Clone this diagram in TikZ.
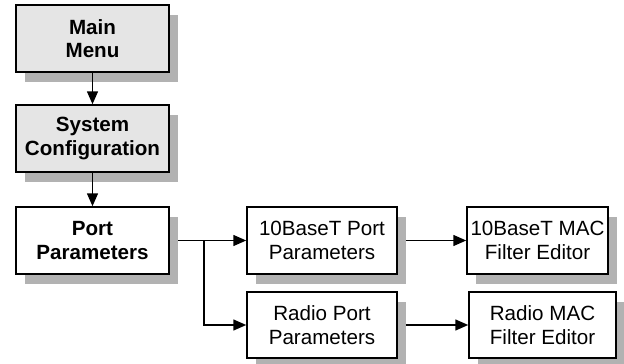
\documentclass[tikz,border=0pt]{standalone}
\usepackage{fontspec}
\setmainfont{Liberation Sans}
\usetikzlibrary{arrows.meta,shadows}
\begin{document}
\begin{tikzpicture}[x=1pt, y=-1pt,
	box/.style={draw, line width=1.5pt, fill=white, align=center, inner sep=0pt,
		minimum height=67pt, font=\fontsize{20.6}{23.6}\selectfont,
		drop shadow={shadow xshift=9pt, shadow yshift=-10pt, fill=black!30, opacity=1}},
	menubox/.style={box, fill=black!10, font=\fontsize{20.6}{23.6}\selectfont\bfseries},
	conn/.style={line width=1.5pt, -{Triangle[length=13pt, width=11pt]}}]
	\useasboundingbox (0,0) rectangle (624,364);
	\node[menubox, minimum width=153pt] (main) at (92.5, 38.5) {Main\\Menu};
	\node[menubox, minimum width=153pt] (sysconf) at (92.5, 138.5) {System\\Configuration};
	\node[box, minimum width=153pt, font=\fontsize{20.6}{23.6}\selectfont\bfseries] (port) at (92.5, 240.5) {Port\\Parameters};
	\node[box, minimum width=150pt] (tenport) at (322, 240.5) {10BaseT Port\\Parameters};
	\node[box, minimum width=150pt, minimum height=66pt] (radioport) at (322, 325) {Radio Port\\Parameters};
	\node[box, minimum width=141pt] (tenmac) at (537.5, 240.5) {10BaseT MAC\\Filter Editor};
	\node[box, minimum width=147pt, minimum height=66pt] (radiomac) at (542.5, 325) {Radio MAC\\Filter Editor};
	\coordinate (split) at (204, 240.5);
	\draw[conn] (main) -- (sysconf);
	\draw[conn] (sysconf) -- (port);
	\draw[conn, shorten <=8pt] (port.east) -- (tenport.west);
	\draw[conn] (split) |- (radioport.west);
	\draw[conn, shorten <=8pt] (tenport.east) -- (tenmac.west);
	\draw[conn, shorten <=8pt] (radioport.east) -- (radiomac.west);
\end{tikzpicture}
\end{document}
